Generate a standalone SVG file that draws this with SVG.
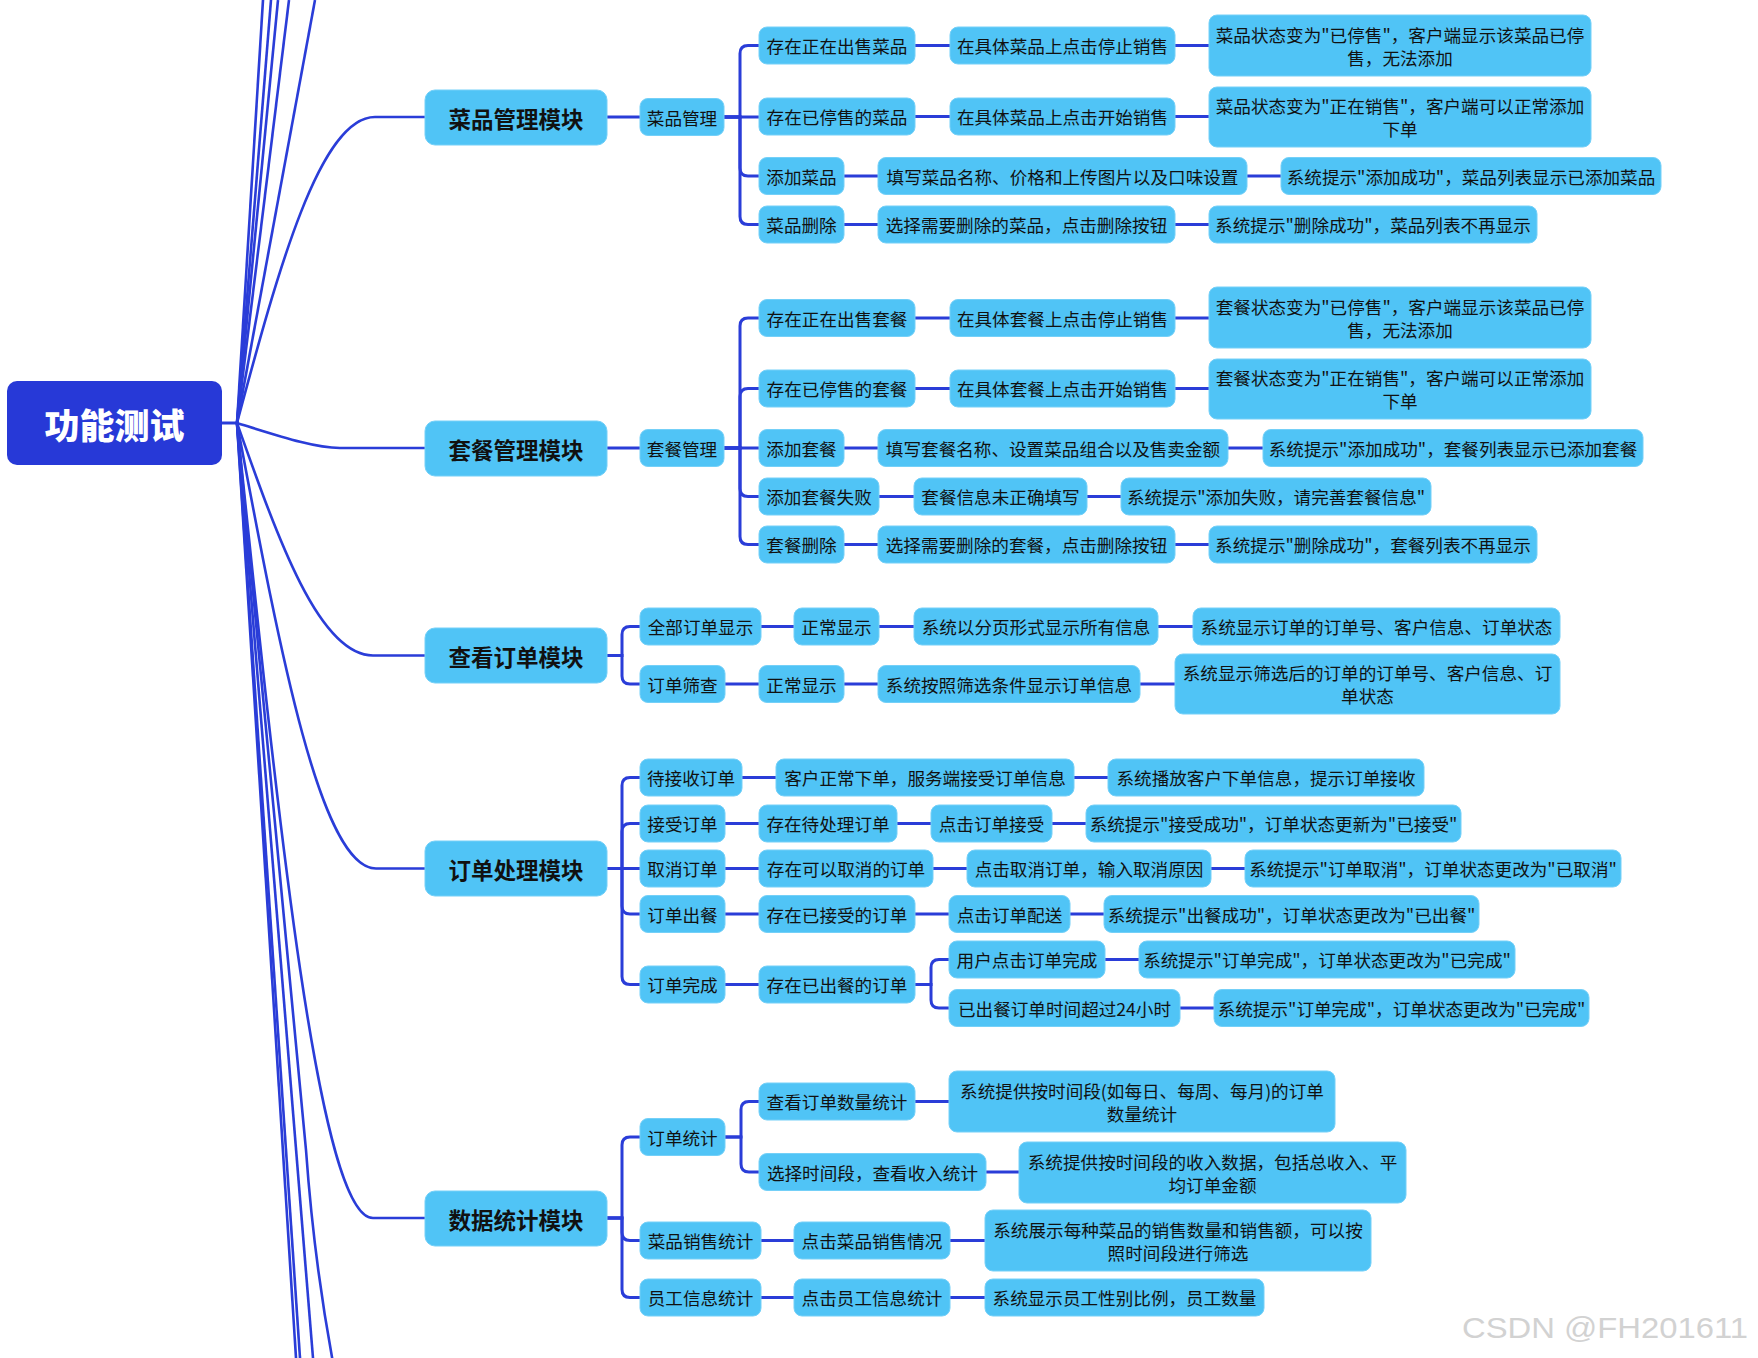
<svg xmlns="http://www.w3.org/2000/svg" width="1758" height="1358" viewBox="0 0 1758 1358">
<style>
.n rect{fill:#50C4F6;stroke:#74D0F8;stroke-width:1}
.n text{font-family:"Noto Sans CJK SC","Microsoft YaHei",sans-serif;font-size:17.6px;fill:#111;text-anchor:middle;dominant-baseline:central}
.m rect{fill:#50C4F6;stroke:#74D0F8;stroke-width:1}
.m text{font-family:"Noto Sans CJK SC","Microsoft YaHei",sans-serif;font-size:22.5px;font-weight:bold;fill:#111;text-anchor:middle;dominant-baseline:central}
.r rect{fill:#2739D7}
.r text{font-family:"Noto Sans CJK SC","Microsoft YaHei",sans-serif;font-size:35px;font-weight:900;fill:#fff;text-anchor:middle;dominant-baseline:central}
#connectors path{fill:none;stroke:#2A3DD8;stroke-width:3;stroke-linecap:butt}
#connectors .c{stroke-width:2.6}
.wm{font-family:"Liberation Sans",Arial,sans-serif;font-size:30px;fill:#d2d2d2}
</style>
<rect width="1758" height="1358" fill="#fff"/>
<g id="connectors">
<path d="M222,423 H237"/>
<path class="c" d="M237,423 L263,0"/>
<path class="c" d="M237,423 L271,0"/>
<path class="c" d="M237,423 L278,0"/>
<path class="c" d="M237,423 L289,0"/>
<path class="c" d="M237,423 L315,0"/>
<path class="c" d="M237,423 L296,1358"/>
<path class="c" d="M237,423 L300,1358"/>
<path class="c" d="M237,423 L313,1358"/>
<path class="c" d="M237,423 L306,1150 Q314,1262 334,1368"/>
<path class="c" d="M237,423 C278,270 320,117 375,117 H425"/>
<path class="c" d="M237,423 C282,437 315,448 340,448 H425"/>
<path class="c" d="M237,423 C278,539 319,655.5 373,655.5 H425"/>
<path class="c" d="M237,423 C279,646 320,868.5 376,868.5 H425"/>
<path class="c" d="M237,423 C278,820 319,1218 373,1218 H425"/>
<!-- 菜品 -->
<path d="M607,117 H640"/>
<path d="M724,117 H740 V53.5 Q740,45.5 748,45.5 H759"/>
<path d="M724,117 H759"/>
<path d="M724,117 H740 V168 Q740,176 748,176 H759"/>
<path d="M724,117 H740 V216.5 Q740,224.5 748,224.5 H759"/>
<path d="M915,45.5 H950 M1175,45.5 H1209"/>
<path d="M915,116.5 H950 M1175,116.5 H1209"/>
<path d="M844,176 H878 M1247,176 H1281"/>
<path d="M844,224.5 H878 M1175,224.5 H1209"/>
<!-- 套餐 -->
<path d="M607,448 H640"/>
<path d="M724,448 H740 V326 Q740,318 748,318 H759"/>
<path d="M724,448 H740 V396.5 Q740,388.5 748,388.5 H759"/>
<path d="M724,448 H759"/>
<path d="M724,448 H740 V488.5 Q740,496.5 748,496.5 H759"/>
<path d="M724,448 H740 V536.5 Q740,544.5 748,544.5 H759"/>
<path d="M915,318 H950 M1175,318 H1209"/>
<path d="M915,388.5 H950 M1175,388.5 H1209"/>
<path d="M844,448 H878 M1228,448 H1263"/>
<path d="M879,496.5 H914 M1087,496.5 H1121"/>
<path d="M844,544.5 H878 M1175,544.5 H1209"/>
<!-- 查看订单 -->
<path d="M607,655.5 H622 V634.5 Q622,626.5 630,626.5 H640"/>
<path d="M607,655.5 H622 V676 Q622,684 630,684 H640"/>
<path d="M761,626.5 H794 M879,626.5 H914 M1158,626.5 H1193"/>
<path d="M725,684 H759 M844,684 H878 M1140,684 H1175"/>
<!-- 订单处理 -->
<path d="M607,868.5 H622 V785.5 Q622,777.5 630,777.5 H640"/>
<path d="M607,868.5 H622 V831.5 Q622,823.5 630,823.5 H640"/>
<path d="M607,868.5 H640"/>
<path d="M607,868.5 H622 V906 Q622,914 630,914 H640"/>
<path d="M607,868.5 H622 V976.5 Q622,984.5 630,984.5 H640"/>
<path d="M742,777.5 H776 M1074,777.5 H1108"/>
<path d="M725,823.5 H759 M897,823.5 H931 M1052,823.5 H1086"/>
<path d="M725,868.5 H759 M933,868.5 H967 M1211,868.5 H1245"/>
<path d="M725,914 H759 M915,914 H949 M1070,914 H1104"/>
<path d="M725,984.5 H759"/>
<path d="M915,984.5 H931 V967.5 Q931,959.5 939,959.5 H949"/>
<path d="M915,984.5 H931 V1000 Q931,1008 939,1008 H949"/>
<path d="M1105,959.5 H1139 M1180,1008 H1214"/>
<!-- 数据统计 -->
<path d="M607,1218 H622 V1145 Q622,1137 630,1137 H640"/>
<path d="M607,1218 H622 V1232.5 Q622,1240.5 630,1240.5 H640"/>
<path d="M607,1218 H622 V1289.5 Q622,1297.5 630,1297.5 H640"/>
<path d="M725,1137 H741 V1109.5 Q741,1101.5 749,1101.5 H759"/>
<path d="M725,1137 H741 V1164 Q741,1172 749,1172 H759"/>
<path d="M915,1101.5 H949 M986,1172 H1019"/>
<path d="M761,1240.5 H794 M950,1240.5 H985"/>
<path d="M761,1297.5 H794 M950,1297.5 H985"/>
</g>

<g id="root" class="r"><rect x="7" y="381" width="215" height="84" rx="10"/><text x="114.5" y="423">功能测试</text></g>

<g id="m1" class="m"><rect x="425" y="90" width="182" height="55" rx="10"/><text x="516" y="117.5">菜品管理模块</text></g>
<g id="m2" class="m"><rect x="425" y="421" width="182" height="55" rx="10"/><text x="516" y="448.5">套餐管理模块</text></g>
<g id="m3" class="m"><rect x="425" y="628" width="182" height="55" rx="10"/><text x="516" y="655.5">查看订单模块</text></g>
<g id="m4" class="m"><rect x="425" y="841" width="182" height="55" rx="10"/><text x="516" y="868.5">订单处理模块</text></g>
<g id="m5" class="m"><rect x="425" y="1191" width="182" height="55" rx="10"/><text x="516" y="1218.5">数据统计模块</text></g>

<!-- 菜品管理 -->
<g id="a0" class="n"><rect x="640" y="98.5" width="84" height="37" rx="8"/><text x="682" y="117">菜品管理</text></g>
<g id="a1" class="n"><rect x="759" y="27" width="156" height="37" rx="8"/><text x="837" y="45.5">存在正在出售菜品</text></g>
<g id="a2" class="n"><rect x="950" y="27" width="225" height="37" rx="8"/><text x="1062.5" y="45.5">在具体菜品上点击停止销售</text></g>
<g id="a3" class="n"><rect x="1209" y="15" width="382" height="61" rx="8"/><text x="1400" y="34">菜品状态变为"已停售"，客户端显示该菜品已停</text><text x="1400" y="57">售，无法添加</text></g>
<g id="a4" class="n"><rect x="759" y="98" width="156" height="37" rx="8"/><text x="837" y="116.5">存在已停售的菜品</text></g>
<g id="a5" class="n"><rect x="950" y="98" width="225" height="37" rx="8"/><text x="1062.5" y="116.5">在具体菜品上点击开始销售</text></g>
<g id="a6" class="n"><rect x="1209" y="87" width="382" height="60" rx="8"/><text x="1400" y="105.5">菜品状态变为"正在销售"，客户端可以正常添加</text><text x="1400" y="128.5">下单</text></g>
<g id="a7" class="n"><rect x="759" y="157.5" width="85" height="37" rx="8"/><text x="801.5" y="176">添加菜品</text></g>
<g id="a8" class="n"><rect x="878" y="157.5" width="369" height="37" rx="8"/><text x="1062.5" y="176">填写菜品名称、价格和上传图片以及口味设置</text></g>
<g id="a9" class="n"><rect x="1281" y="157.5" width="380" height="37" rx="8"/><text x="1471" y="176">系统提示"添加成功"，菜品列表显示已添加菜品</text></g>
<g id="a10" class="n"><rect x="759" y="206" width="85" height="37" rx="8"/><text x="801.5" y="224.5">菜品删除</text></g>
<g id="a11" class="n"><rect x="878" y="206" width="297" height="37" rx="8"/><text x="1026.5" y="224.5">选择需要删除的菜品，点击删除按钮</text></g>
<g id="a12" class="n"><rect x="1209" y="206" width="328" height="37" rx="8"/><text x="1373" y="224.5">系统提示"删除成功"，菜品列表不再显示</text></g>

<!-- 套餐管理 -->
<g id="b0" class="n"><rect x="640" y="429.5" width="84" height="37" rx="8"/><text x="682" y="448">套餐管理</text></g>
<g id="b1" class="n"><rect x="759" y="299.5" width="156" height="37" rx="8"/><text x="837" y="318">存在正在出售套餐</text></g>
<g id="b2" class="n"><rect x="950" y="299.5" width="225" height="37" rx="8"/><text x="1062.5" y="318">在具体套餐上点击停止销售</text></g>
<g id="b3" class="n"><rect x="1209" y="287" width="382" height="61" rx="8"/><text x="1400" y="306">套餐状态变为"已停售"，客户端显示该菜品已停</text><text x="1400" y="329">售，无法添加</text></g>
<g id="b4" class="n"><rect x="759" y="370" width="156" height="37" rx="8"/><text x="837" y="388.5">存在已停售的套餐</text></g>
<g id="b5" class="n"><rect x="950" y="370" width="225" height="37" rx="8"/><text x="1062.5" y="388.5">在具体套餐上点击开始销售</text></g>
<g id="b6" class="n"><rect x="1209" y="359" width="382" height="60" rx="8"/><text x="1400" y="377.5">套餐状态变为"正在销售"，客户端可以正常添加</text><text x="1400" y="400.5">下单</text></g>
<g id="b7" class="n"><rect x="759" y="429.5" width="85" height="37" rx="8"/><text x="801.5" y="448">添加套餐</text></g>
<g id="b8" class="n"><rect x="878" y="429.5" width="350" height="37" rx="8"/><text x="1053" y="448">填写套餐名称、设置菜品组合以及售卖金额</text></g>
<g id="b9" class="n"><rect x="1263" y="429.5" width="380" height="37" rx="8"/><text x="1453" y="448">系统提示"添加成功"，套餐列表显示已添加套餐</text></g>
<g id="b10" class="n"><rect x="759" y="478" width="120" height="37" rx="8"/><text x="819" y="496.5">添加套餐失败</text></g>
<g id="b11" class="n"><rect x="914" y="478" width="173" height="37" rx="8"/><text x="1000.5" y="496.5">套餐信息未正确填写</text></g>
<g id="b12" class="n"><rect x="1121" y="478" width="310" height="37" rx="8"/><text x="1276" y="496.5">系统提示"添加失败，请完善套餐信息"</text></g>
<g id="b13" class="n"><rect x="759" y="526" width="85" height="37" rx="8"/><text x="801.5" y="544.5">套餐删除</text></g>
<g id="b14" class="n"><rect x="878" y="526" width="297" height="37" rx="8"/><text x="1026.5" y="544.5">选择需要删除的套餐，点击删除按钮</text></g>
<g id="b15" class="n"><rect x="1209" y="526" width="328" height="37" rx="8"/><text x="1373" y="544.5">系统提示"删除成功"，套餐列表不再显示</text></g>

<!-- 查看订单 -->
<g id="c1" class="n"><rect x="640" y="608" width="121" height="37" rx="8"/><text x="700.5" y="626.5">全部订单显示</text></g>
<g id="c2" class="n"><rect x="794" y="608" width="85" height="37" rx="8"/><text x="836.5" y="626.5">正常显示</text></g>
<g id="c3" class="n"><rect x="914" y="608" width="244" height="37" rx="8"/><text x="1036" y="626.5">系统以分页形式显示所有信息</text></g>
<g id="c4" class="n"><rect x="1193" y="608" width="367" height="37" rx="8"/><text x="1376.5" y="626.5">系统显示订单的订单号、客户信息、订单状态</text></g>
<g id="c5" class="n"><rect x="640" y="665.5" width="85" height="37" rx="8"/><text x="682.5" y="684">订单筛查</text></g>
<g id="c6" class="n"><rect x="759" y="665.5" width="85" height="37" rx="8"/><text x="801.5" y="684">正常显示</text></g>
<g id="c7" class="n"><rect x="878" y="665.5" width="262" height="37" rx="8"/><text x="1009" y="684">系统按照筛选条件显示订单信息</text></g>
<g id="c8" class="n"><rect x="1175" y="654" width="385" height="60" rx="8"/><text x="1367.5" y="672.5">系统显示筛选后的订单的订单号、客户信息、订</text><text x="1367.5" y="695.5">单状态</text></g>

<!-- 订单处理 -->
<g id="d1" class="n"><rect x="640" y="759" width="102" height="37" rx="8"/><text x="691" y="777.5">待接收订单</text></g>
<g id="d2" class="n"><rect x="776" y="759" width="298" height="37" rx="8"/><text x="925" y="777.5">客户正常下单，服务端接受订单信息</text></g>
<g id="d3" class="n"><rect x="1108" y="759" width="316" height="37" rx="8"/><text x="1266" y="777.5">系统播放客户下单信息，提示订单接收</text></g>
<g id="d4" class="n"><rect x="640" y="805" width="85" height="37" rx="8"/><text x="682.5" y="823.5">接受订单</text></g>
<g id="d5" class="n"><rect x="759" y="805" width="138" height="37" rx="8"/><text x="828" y="823.5">存在待处理订单</text></g>
<g id="d6" class="n"><rect x="931" y="805" width="121" height="37" rx="8"/><text x="991.5" y="823.5">点击订单接受</text></g>
<g id="d7" class="n"><rect x="1086" y="805" width="375" height="37" rx="8"/><text x="1273.5" y="823.5">系统提示"接受成功"，订单状态更新为"已接受"</text></g>
<g id="d8" class="n"><rect x="640" y="850" width="85" height="37" rx="8"/><text x="682.5" y="868.5">取消订单</text></g>
<g id="d9" class="n"><rect x="759" y="850" width="174" height="37" rx="8"/><text x="846" y="868.5">存在可以取消的订单</text></g>
<g id="d10" class="n"><rect x="967" y="850" width="244" height="37" rx="8"/><text x="1089" y="868.5">点击取消订单，输入取消原因</text></g>
<g id="d11" class="n"><rect x="1245" y="850" width="376" height="37" rx="8"/><text x="1433" y="868.5">系统提示"订单取消"，订单状态更改为"已取消"</text></g>
<g id="d12" class="n"><rect x="640" y="895.5" width="85" height="37" rx="8"/><text x="682.5" y="914">订单出餐</text></g>
<g id="d13" class="n"><rect x="759" y="895.5" width="156" height="37" rx="8"/><text x="837" y="914">存在已接受的订单</text></g>
<g id="d14" class="n"><rect x="949" y="895.5" width="121" height="37" rx="8"/><text x="1009.5" y="914">点击订单配送</text></g>
<g id="d15" class="n"><rect x="1104" y="895.5" width="375" height="37" rx="8"/><text x="1291.5" y="914">系统提示"出餐成功"，订单状态更改为"已出餐"</text></g>
<g id="d16" class="n"><rect x="640" y="966" width="85" height="37" rx="8"/><text x="682.5" y="984.5">订单完成</text></g>
<g id="d17" class="n"><rect x="759" y="966" width="156" height="37" rx="8"/><text x="837" y="984.5">存在已出餐的订单</text></g>
<g id="d18" class="n"><rect x="949" y="941" width="156" height="37" rx="8"/><text x="1027" y="959.5">用户点击订单完成</text></g>
<g id="d19" class="n"><rect x="1139" y="941" width="376" height="37" rx="8"/><text x="1327" y="959.5">系统提示"订单完成"，订单状态更改为"已完成"</text></g>
<g id="d20" class="n"><rect x="949" y="989.5" width="231" height="37" rx="8"/><text x="1064.5" y="1008">已出餐订单时间超过24小时</text></g>
<g id="d21" class="n"><rect x="1214" y="989.5" width="375" height="37" rx="8"/><text x="1401.5" y="1008">系统提示"订单完成"，订单状态更改为"已完成"</text></g>

<!-- 数据统计 -->
<g id="e1" class="n"><rect x="640" y="1118.5" width="85" height="37" rx="8"/><text x="682.5" y="1137">订单统计</text></g>
<g id="e2" class="n"><rect x="759" y="1083" width="156" height="37" rx="8"/><text x="837" y="1101.5">查看订单数量统计</text></g>
<g id="e3" class="n"><rect x="949" y="1071" width="386" height="61" rx="8"/><text x="1142" y="1090">系统提供按时间段(如每日、每周、每月)的订单</text><text x="1142" y="1113">数量统计</text></g>
<g id="e4" class="n"><rect x="759" y="1153.5" width="227" height="37" rx="8"/><text x="872.5" y="1172">选择时间段，查看收入统计</text></g>
<g id="e5" class="n"><rect x="1019" y="1142" width="387" height="61" rx="8"/><text x="1212.5" y="1161">系统提供按时间段的收入数据，包括总收入、平</text><text x="1212.5" y="1184">均订单金额</text></g>
<g id="e6" class="n"><rect x="640" y="1222" width="121" height="37" rx="8"/><text x="700.5" y="1240.5">菜品销售统计</text></g>
<g id="e7" class="n"><rect x="794" y="1222" width="156" height="37" rx="8"/><text x="872" y="1240.5">点击菜品销售情况</text></g>
<g id="e8" class="n"><rect x="985" y="1210" width="386" height="61" rx="8"/><text x="1178" y="1229">系统展示每种菜品的销售数量和销售额，可以按</text><text x="1178" y="1252">照时间段进行筛选</text></g>
<g id="e9" class="n"><rect x="640" y="1279" width="121" height="37" rx="8"/><text x="700.5" y="1297.5">员工信息统计</text></g>
<g id="e10" class="n"><rect x="794" y="1279" width="156" height="37" rx="8"/><text x="872" y="1297.5">点击员工信息统计</text></g>
<g id="e11" class="n"><rect x="985" y="1279" width="279" height="37" rx="8"/><text x="1124.5" y="1297.5">系统显示员工性别比例，员工数量</text></g>

<text class="wm" x="1462" y="1338" textLength="286" lengthAdjust="spacingAndGlyphs">CSDN @FH201611</text>
</svg>
